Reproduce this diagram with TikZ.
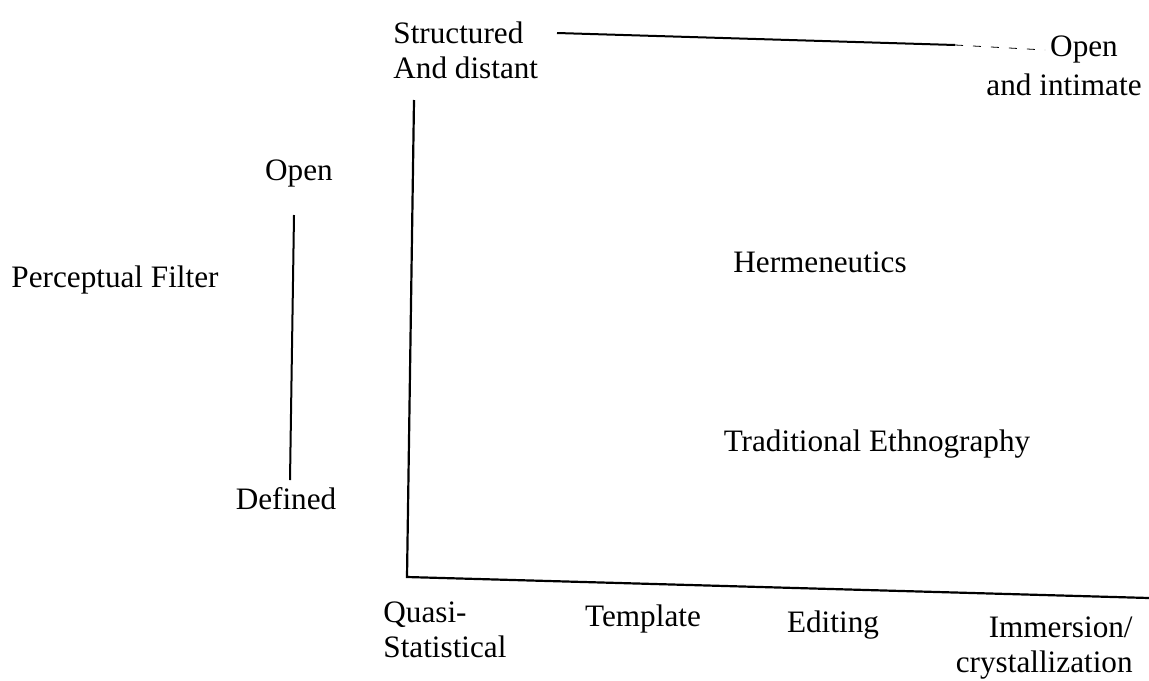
\documentclass[tikz,border=0pt]{standalone}
\usepackage{fontspec}
\setmainfont{Liberation Serif}
\usepackage{tikz}

\tikzset{
  lbl/.style={inner sep=0pt, font=\fontsize{15.6}{17.5}\selectfont},
  axisline/.style={line width=1.1pt},
}

\begin{document}
\begin{tikzpicture}[x=0.5pt, y=-0.5pt]
\useasboundingbox (0,0) rectangle (1149,680);
% Corner points
\coordinate (ytop) at (414,100);
\coordinate (origin) at (407,577);
\coordinate (xend) at (1149,598);
\coordinate (tstart) at (557,33);
\coordinate (tmid) at (955,45);
\coordinate (tend) at (1045,50);
\coordinate (fopen) at (294,215);
\coordinate (fdef) at (290,480);
% Axes
\draw[axisline] (ytop) -- (origin) -- (xend);
% Top scale
\draw[line width=1pt] (tstart) -- (tmid);
\draw[thin, dash pattern=on 4pt off 5pt] (tmid) -- (tend);
% Filter scale
\draw[line width=1pt] (fopen) -- (fdef);
% Labels
\node[lbl, align=left, anchor=west] (struct) at (393,50) {Structured\\And distant};
\node[lbl] (open) at (1084,49) {Open};
\node[lbl] (intim) at (1064,85) {and intimate};
\node[lbl] (popen) at (299,173) {Open};
\node[lbl] (pfilter) at (115,280) {Perceptual Filter};
\node[lbl] (pdef) at (286,499) {Defined};
\node[lbl] (herm) at (820,262) {Hermeneutics};
\node[lbl] (trad) at (877,444) {Traditional Ethnography};
% Bottom labels
\node[lbl, align=left, anchor=west] (quasi) at (383,630) {Quasi-\\Statistical};
\foreach \name/\x/\y/\txt in {templ/643/619/Template, edit/833/625/Editing}
    \node[lbl] (\name) at (\x,\y) {\txt};
\node[lbl, align=right, anchor=east] (immer) at (1133,648) {Immersion/\\crystallization};
\end{tikzpicture}
\end{document}
